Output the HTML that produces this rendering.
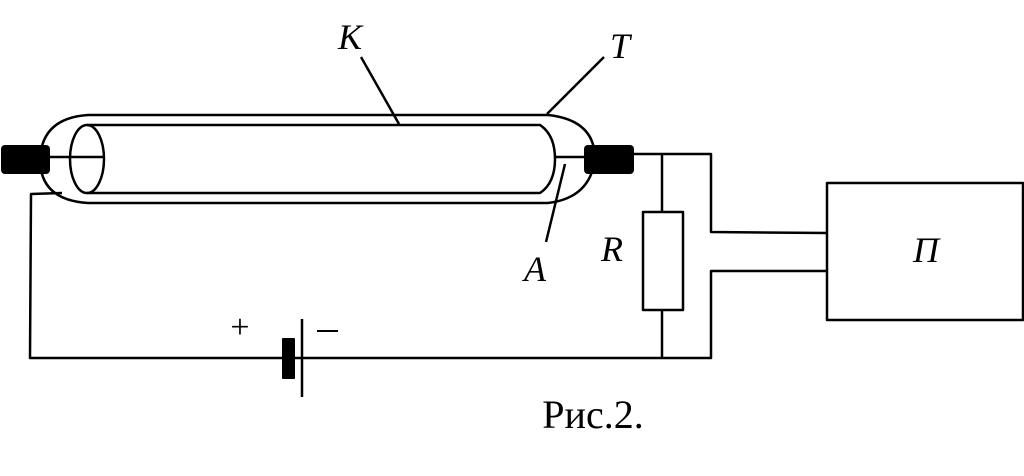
<!DOCTYPE html>
<html><head><meta charset="utf-8"><style>
html,body{margin:0;padding:0;background:#fff;}
svg{display:block;}
text{font-family:"Liberation Serif",serif;fill:#000;}
</style></head><body>
<svg width="1024" height="476" viewBox="0 0 1024 476" xmlns="http://www.w3.org/2000/svg">
<g fill="none" stroke="#000" stroke-width="2.5" stroke-linejoin="round">
<path d="M88,115 L548,115 Q595,120 595,159 Q590,198 548,203 L88,203 Q40,200 40,159 Q42,118 88,115 Z"/>
<path d="M87,125 L540,125 Q555,135 555,159 Q555,183 540,193 L87,193"/>
<ellipse cx="87" cy="159" rx="17" ry="34"/>
<line x1="50" y1="157" x2="105" y2="157"/>
<line x1="555" y1="157" x2="584" y2="157"/>
<polyline points="634,154 711,154 711,232 827,233"/>
<polyline points="827,271 711,271 711,358 30,358 31,194 62,193"/>
<line x1="662" y1="154" x2="662" y2="212"/>
<rect x="643" y="212" width="40" height="98"/>
<line x1="662" y1="310" x2="662" y2="358"/>
<rect x="827" y="183" width="196" height="137"/>
<line x1="302" y1="319" x2="302" y2="397"/>
<line x1="361" y1="57" x2="399" y2="124"/>
<line x1="604" y1="57" x2="547" y2="114"/>
<line x1="565" y1="164" x2="546" y2="242"/>
</g>
<rect x="1" y="145" width="49" height="29" rx="4" fill="#000"/>
<rect x="584" y="145" width="50" height="29" rx="4" fill="#000"/>
<rect x="282" y="338" width="13" height="41" rx="1" fill="#000"/>
<g font-style="italic" font-size="36" text-anchor="middle">
<text x="350" y="49">K</text>
<text x="620" y="58">T</text>
<text x="535" y="281">A</text>
<text x="612" y="261">R</text>
<text x="926" y="262">П</text>
</g>
<text x="240" y="338" font-size="34" text-anchor="middle">+</text>
<line x1="317" y1="331" x2="338" y2="331" stroke="#000" stroke-width="2"/>
<text x="593" y="428" font-size="40" text-anchor="middle">Рис.2.</text>
</svg>
</body></html>
